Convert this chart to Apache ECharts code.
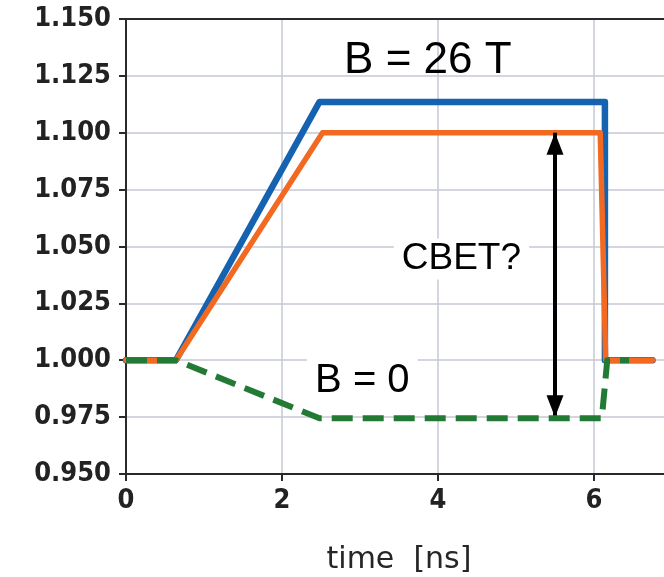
<!DOCTYPE html>
<html>
<head>
<meta charset="utf-8">
<script src="https://cdn.jsdelivr.net/npm/echarts@6/dist/echarts.min.js"></script>
<style>
  html, body { margin: 0; padding: 0; background: #ffffff; }
  #chart { width: 664px; height: 577px; }
</style>
</head>
<body>
<div id="chart"></div>
<script>
// Normalised laser intensity vs. time, with and without a 26 T field
const blueB26 = [[0, 1.0], [0.64, 1.0], [2.48, 1.1135], [6.14, 1.1135], [6.14, 1.0], [6.75, 1.0]];
const orangeB26 = [[0, 1.0], [0.64, 1.0], [2.52, 1.1], [6.08, 1.1], [6.15, 1.0], [6.75, 1.0]];
const greenB0 = [[0, 1.0], [0.64, 1.0], [2.48, 0.9745], [6.1, 0.9745], [6.17, 1.0], [6.45, 1.0]];

// Double arrow marking the gap between the two cases
const gapArrow = [[5.5, 0.975], [5.5, 1.1]];

// Text annotations: [label, x, y, size, opaque background]
const notes = [
  ['B = 26 T', 3.87, 1.1315, 44, false],
  ['CBET?', 4.3, 1.0445, 37, true],
  ['B = 0', 3.03, 0.9909, 40, true]
];

const xTicks = [0, 2, 4, 6];
const yTicks = [0.95, 0.975, 1.0, 1.025, 1.05, 1.075, 1.1, 1.125, 1.15];

const gridColor = '#c6c8d5';
const axisColor = '#2a2a2a';
const tickFont = { fontFamily: 'DejaVu Sans Condensed', fontSize: 27, fontWeight: 'bold', color: '#222222' };

// Filled arrowhead whose tip sits at the symbol centre (empty upper half of the box)
const arrowHead = 'path://M0,0 M0,22 L8.5,44 L-8.5,44 Z';

const chart = echarts.init(document.getElementById('chart'), null, { renderer: 'canvas' });

chart.setOption({
  backgroundColor: '#ffffff',
  animation: false,
  grid: { left: 126, top: 19, width: 546, height: 455, outerBoundsMode: 'none', containLabel: false },
  xAxis: [{
    type: 'value',
    min: 0, max: 7, interval: 2,
    axisLine: { show: true, onZero: false, lineStyle: { color: axisColor, width: 2 } },
    axisTick: { show: true, inside: false, length: 7, lineStyle: { color: axisColor, width: 2 } },
    axisLabel: Object.assign({ margin: 13, showMaxLabel: false,
      formatter: v => xTicks.includes(v) ? String(v) : '' }, tickFont),
    splitLine: { show: true, lineStyle: { color: gridColor, width: 1.5 } },
    name: 'time  [ns]',
    nameLocation: 'middle',
    nameGap: 71,
    nameTextStyle: { fontFamily: 'DejaVu Sans', fontSize: 30, color: '#262626' }
  }, {
    type: 'value', position: 'top',
    min: 0, max: 7,
    axisLine: { show: true, lineStyle: { color: axisColor, width: 2 } },
    axisTick: { show: false }, axisLabel: { show: false }, splitLine: { show: false }
  }],
  yAxis: {
    type: 'value',
    min: 0.95, max: 1.15, interval: 0.025,
    axisLine: { show: true, lineStyle: { color: axisColor, width: 2 } },
    axisTick: { show: true, length: 7, lineStyle: { color: axisColor, width: 2 } },
    axisLabel: Object.assign({ margin: 15,
      formatter: v => yTicks.some(t => Math.abs(t - v) < 1e-9) ? v.toFixed(3) : '' }, tickFont),
    splitLine: { show: true, lineStyle: { color: gridColor, width: 1.5 } }
  },
  series: [
    {
      name: 'B = 26 T (blue)', type: 'line', data: blueB26, showSymbol: false, z: 3,
      lineStyle: { color: '#1462b0', width: 6.5, join: 'round', cap: 'round' }
    },
    {
      name: 'B = 26 T (orange)', type: 'line', data: orangeB26, showSymbol: false, z: 4,
      lineStyle: { color: '#f26a22', width: 5.5, join: 'round', cap: 'round' }
    },
    {
      name: 'B = 0', type: 'line', data: greenB0, showSymbol: false, z: 5,
      lineStyle: { color: '#237a35', width: 6, type: [21, 10], join: 'round' },
      markLine: {
        silent: true,
        symbol: [arrowHead, arrowHead],
        symbolSize: [17, 44],
        label: { show: false },
        itemStyle: { color: '#000000' },
        lineStyle: { color: '#000000', width: 4, type: 'solid' },
        data: [[{ coord: gapArrow[0] }, { coord: gapArrow[1] }]]
      },
      markPoint: {
        silent: true,
        symbol: 'rect',
        symbolSize: 1,
        itemStyle: { color: 'rgba(0,0,0,0)' },
        data: notes.map(n => ({
          coord: [n[1], n[2]],
          label: {
            show: true, position: 'inside', formatter: n[0],
            fontFamily: 'Liberation Sans', fontSize: n[3], color: '#000000',
            backgroundColor: n[4] ? '#ffffff' : 'transparent',
            padding: [2, 8]
          }
        }))
      }
    }
  ]
});
</script>
</body>
</html>
